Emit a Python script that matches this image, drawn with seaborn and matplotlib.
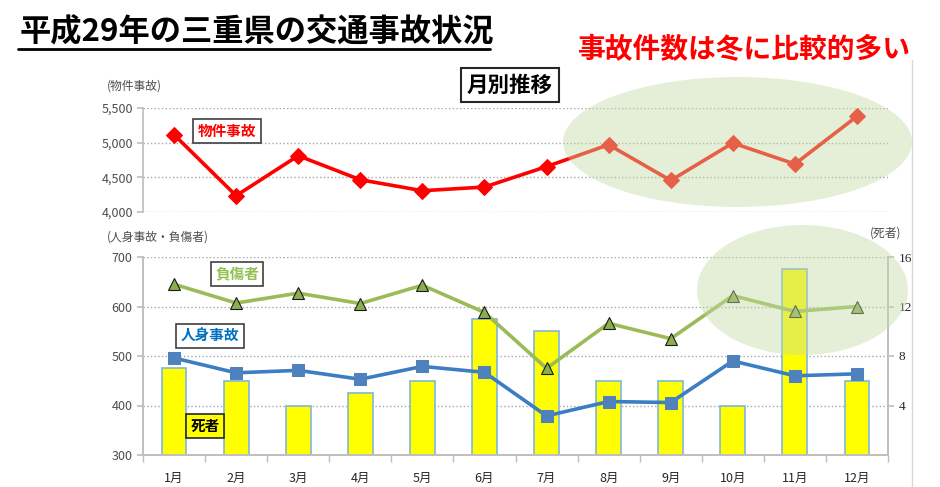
"""
平成29年の三重県の交通事故状況 - 月別推移
"""

import numpy as np
import matplotlib
matplotlib.use("Agg")
import matplotlib.pyplot as plt
from matplotlib.patches import Ellipse
from matplotlib.lines import Line2D
import seaborn as sns

sns.set_theme(style="white")
plt.rcParams["font.family"] = ["Noto Sans CJK JP", "DejaVu Sans"]

# data
months = ["1月", "2月", "3月", "4月", "5月", "6月",
          "7月", "8月", "9月", "10月", "11月", "12月"]
property_accidents = [5115, 4235, 4812, 4465, 4307, 4360,
                      4655, 4970, 4455, 4995, 4692, 5380]
injured = [645, 607, 627, 606, 643, 588, 475, 566, 535, 622, 590, 600]
injury_accidents = [496, 466, 471, 453, 479, 467, 379, 408, 406, 490, 460, 464]
deaths = [7, 6, 4, 5, 6, 11, 10, 6, 6, 4, 15, 6]

W, H = 940, 487
TICK_COLOR = "#4D4D4D"
GRID_COLOR = "#BFBFBF"


def fx(px):
    return px / W


def fy(py):
    return 1 - py / H


def main():
    fig = plt.figure(figsize=(W / 100, H / 100), dpi=100)
    fig.patch.set_facecolor("white")
    x = np.arange(len(months))

    # ---- top: 物件事故 ----
    ax_top = fig.add_axes([fx(143), fy(212), fx(888) - fx(143), (212 - 108) / H])
    sns.lineplot(x=x, y=property_accidents, ax=ax_top, color="#FF0000",
                 linewidth=2.6, marker="D", markersize=8.5,
                 markeredgecolor="#FF0000")
    ax_top.set_xlim(-0.5, len(months) - 0.5)
    ax_top.set_ylim(4000, 5500)
    ax_top.set_yticks([4000, 4500, 5000, 5500])
    ax_top.set_yticklabels(["4,000", "4,500", "5,000", "5,500"])
    ax_top.set_xticks([])
    for s in ["top", "right", "bottom"]:
        ax_top.spines[s].set_visible(False)
    ax_top.spines["left"].set_color(GRID_COLOR)
    ax_top.tick_params(axis="y", length=4, color=GRID_COLOR, labelsize=9,
                       labelcolor=TICK_COLOR, left=True, pad=3)
    ax_top.yaxis.grid(True, linestyle=":", color="#A6A6A6", linewidth=1)
    ax_top.set_axisbelow(True)
    ax_top.patch.set_alpha(0)

    # ---- bottom: 人身事故・負傷者 + 死者 ----
    ax_bar = fig.add_axes([fx(143), fy(455), fx(888) - fx(143), (455 - 257) / H])
    ax_line = ax_bar.twinx()

    sns.barplot(x=x, y=deaths, ax=ax_bar, color="#FFFF00", width=0.4,
                edgecolor="#7FB6D9", linewidth=1.2, saturation=1)
    ax_bar.set_ylim(0, 16)
    ax_bar.set_yticks([4, 8, 12, 16])
    ax_bar.yaxis.tick_right()
    ax_bar.yaxis.grid(True, linestyle=":", color="#A6A6A6", linewidth=1)
    ax_bar.set_axisbelow(True)

    sns.lineplot(x=x, y=injured, ax=ax_line, color="#9BBB59", linewidth=2.6,
                 marker="^", markersize=9, markerfacecolor="#8DAE4F",
                 markeredgecolor="#1A1A1A", markeredgewidth=0.8)
    sns.lineplot(x=x, y=injury_accidents, ax=ax_line, color="#3C7DC4",
                 linewidth=2.6, marker="s", markersize=8.5,
                 markerfacecolor="#4F81BD", markeredgecolor="#4F81BD")
    ax_line.set_ylim(300, 700)
    ax_line.set_yticks([300, 400, 500, 600, 700])
    ax_line.yaxis.tick_left()

    for a in (ax_bar, ax_line):
        a.set_xlim(-0.5, len(months) - 0.5)
        a.set_xlabel("")
        a.set_ylabel("")
        a.spines["top"].set_visible(False)
        for s in ["left", "right", "bottom"]:
            a.spines[s].set_color(GRID_COLOR)

    ax_bar.set_xticks(x)
    ax_bar.set_xticklabels(months)
    ax_bar.set_xticks(np.arange(-0.5, len(months)), minor=True)
    ax_bar.tick_params(axis="x", which="major", length=0, pad=12,
                       labelsize=9, labelcolor="#262626", labelbottom=True)
    ax_bar.tick_params(axis="x", which="minor", length=5, color=GRID_COLOR,
                       bottom=True)
    ax_bar.tick_params(axis="y", length=4, color=GRID_COLOR, labelsize=9.5,
                       labelcolor="#262626", right=True)
    for lab in ax_bar.get_yticklabels():
        lab.set_family("Liberation Serif")
    ax_line.tick_params(axis="y", length=4, color=GRID_COLOR, labelsize=9,
                        labelcolor=TICK_COLOR, left=True)
    ax_line.tick_params(axis="x", which="both", bottom=False, labelbottom=False)

    # ---- highlight ellipses ----
    fig.add_artist(Ellipse((fx(737.5), fy(142)), 349 / W, 130 / H,
                           transform=fig.transFigure, facecolor="#C4DBA4",
                           edgecolor="none", alpha=0.44, zorder=5))
    fig.add_artist(Ellipse((fx(802.5), fy(290)), 211 / W, 130 / H,
                           transform=fig.transFigure, facecolor="#C4DBA4",
                           edgecolor="none", alpha=0.44, zorder=5))

    # ---- texts ----
    fig.text(fx(20), fy(32), "平成29年の三重県の交通事故状況", fontsize=22.5,
             fontweight="bold", color="black", va="center", ha="left")
    fig.add_artist(Line2D([fx(18), fx(490)], [fy(49), fy(49)], color="black",
                          linewidth=2, transform=fig.transFigure))
    fig.text(fx(744), fy(50), "事故件数は冬に比較的多い", fontsize=20,
             fontweight="bold", color="#FF0000", va="center", ha="center")
    fig.text(fx(510), fy(85), "月別推移", fontsize=15.5, fontweight="bold",
             color="black", va="center", ha="center",
             bbox=dict(boxstyle="square,pad=0.3", facecolor="white",
                       edgecolor="#262626", linewidth=1.5))

    fig.text(fx(107), fy(86), "(物件事故)", fontsize=8.5, color=TICK_COLOR,
             va="center", ha="left")
    fig.text(fx(107), fy(237), "(人身事故・負傷者)", fontsize=8.5,
             color=TICK_COLOR, va="center", ha="left")
    fig.text(fx(886), fy(233), "(死者)", fontsize=8.5, color=TICK_COLOR,
             va="center", ha="center")

    box = dict(boxstyle="square,pad=0.3", facecolor="white",
               edgecolor="#404040", linewidth=1.2)
    fig.text(fx(227), fy(131), "物件事故", fontsize=10.5, fontweight="bold",
             color="#FF0000", va="center", ha="center", bbox=box)
    fig.text(fx(237), fy(274), "負傷者", fontsize=10.5, fontweight="bold",
             color="#92C050", va="center", ha="center", bbox=box)
    fig.text(fx(210), fy(336), "人身事故", fontsize=10.5, fontweight="bold",
             color="#0070C0", va="center", ha="center", bbox=box)
    fig.text(fx(205), fy(426), "死者", fontsize=10.5, fontweight="bold",
             color="black", va="center", ha="center",
             bbox=dict(boxstyle="square,pad=0.3", facecolor="#FFFF00",
                       edgecolor="#262626", linewidth=1.2))

    # slide edge line on the right
    fig.add_artist(Line2D([fx(912), fx(912)], [fy(60), 0], color="#D9D9D9",
                          linewidth=1, transform=fig.transFigure))

    fig.savefig("out.png", dpi=100)
    plt.close(fig)


if __name__ == "__main__":
    main()
